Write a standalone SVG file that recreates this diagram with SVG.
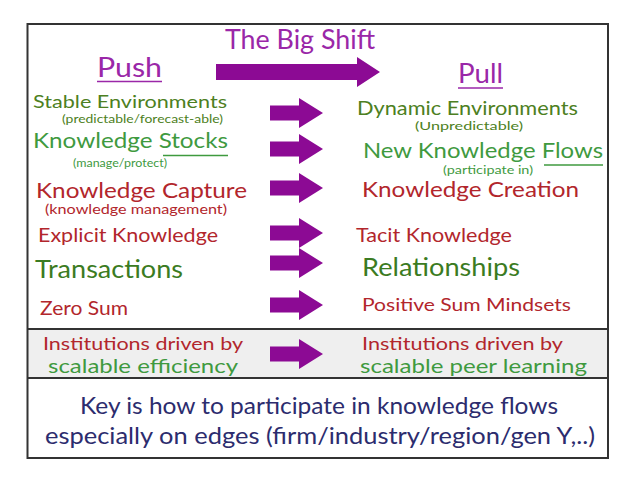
<svg xmlns="http://www.w3.org/2000/svg" width="638" height="479" viewBox="0 0 638 479">
<style>
text{font-family:"Lato","Open Sans","Liberation Sans",sans-serif;}
.pur{fill:#9a27a8;}
.ol{fill:#4d7f22;}
.gr{fill:#3f9a3f;}
.dg{fill:#3b7b22;}
.rd{fill:#b2262c;}
.nv{fill:#2c2c6e;}
.arr{fill:#8c0a94;}
.ul{stroke-width:1.5;}
</style>
<defs>
<path id="sa" d="M0,-7.5 H29 V-15 L53,0 L29,15 V7.5 H0 Z"/>
</defs>
<rect x="0" y="0" width="638" height="479" fill="#ffffff"/>
<rect x="27.5" y="329" width="580.5" height="49" fill="#efefef"/>
<rect x="27.5" y="24" width="580.5" height="434" fill="none" stroke="#333" stroke-width="2"/>
<line x1="27.5" y1="329" x2="608" y2="329" stroke="#333" stroke-width="2"/>
<line x1="27.5" y1="378" x2="608" y2="378" stroke="#333" stroke-width="2"/>

<g id="title">
<text x="225" y="49" font-size="27" class="pur" textLength="150" lengthAdjust="spacingAndGlyphs">The Big Shift</text>
</g>
<g id="push">
<text x="97" y="77" font-size="26" class="pur" textLength="65" lengthAdjust="spacingAndGlyphs">Push</text>
<line x1="97" y1="81.5" x2="162" y2="81.5" stroke="#9a27a8" class="ul"/>
</g>
<g id="pull">
<text x="458" y="83" font-size="26" class="pur" textLength="45" lengthAdjust="spacingAndGlyphs">Pull</text>
<line x1="458" y1="88" x2="503" y2="88" stroke="#9a27a8" class="ul"/>
</g>

<g id="stable">
<text x="33" y="108" font-size="18" class="ol" textLength="194" lengthAdjust="spacingAndGlyphs">Stable Environments</text>
<text x="62" y="123" font-size="12" class="ol" textLength="161" lengthAdjust="spacingAndGlyphs">(predictable/forecast-able)</text>
</g>
<g id="stocks">
<text x="33" y="148" font-size="21" class="gr" textLength="195" lengthAdjust="spacingAndGlyphs">Knowledge Stocks</text>
<line x1="163" y1="155.5" x2="228" y2="155.5" stroke="#3f9a3f" class="ul"/>
<text x="73" y="167" font-size="12" class="gr" textLength="94" lengthAdjust="spacingAndGlyphs">(manage/protect)</text>
</g>
<g id="capture">
<text x="36" y="198" font-size="21" class="rd" textLength="211" lengthAdjust="spacingAndGlyphs">Knowledge Capture</text>
<text x="45" y="214" font-size="13" class="rd" textLength="182" lengthAdjust="spacingAndGlyphs">(knowledge management)</text>
</g>
<g id="explicit">
<text x="38" y="242" font-size="19" class="rd" textLength="180" lengthAdjust="spacingAndGlyphs">Explicit Knowledge</text>
</g>
<g id="transactions">
<text x="35" y="278" font-size="25" class="dg" textLength="148" lengthAdjust="spacingAndGlyphs">Transactions</text>
</g>
<g id="zerosum">
<text x="40" y="315" font-size="19" class="rd" textLength="88" lengthAdjust="spacingAndGlyphs">Zero Sum</text>
</g>
<g id="inst-left">
<text x="43" y="350" font-size="18" class="rd" textLength="200" lengthAdjust="spacingAndGlyphs">Institutions driven by</text>
<text x="48" y="373" font-size="20" class="gr" textLength="190" lengthAdjust="spacingAndGlyphs">scalable efficiency</text>
</g>

<g id="dynamic">
<text x="357" y="115" font-size="19" class="ol" textLength="221" lengthAdjust="spacingAndGlyphs">Dynamic Environments</text>
<text x="415" y="130" font-size="12" class="ol" textLength="108" lengthAdjust="spacingAndGlyphs">(Unpredictable)</text>
</g>
<g id="flows">
<text x="363" y="158" font-size="21" class="gr" textLength="240" lengthAdjust="spacingAndGlyphs">New Knowledge Flows</text>
<line x1="544" y1="165" x2="603" y2="165" stroke="#3f9a3f" class="ul"/>
<text x="443" y="174" font-size="11" class="gr" textLength="90" lengthAdjust="spacingAndGlyphs">(participate in)</text>
</g>
<g id="creation">
<text x="362" y="197" font-size="21" class="rd" textLength="217" lengthAdjust="spacingAndGlyphs">Knowledge Creation</text>
</g>
<g id="tacit">
<text x="356" y="242" font-size="19" class="rd" textLength="156" lengthAdjust="spacingAndGlyphs">Tacit Knowledge</text>
</g>
<g id="relationships">
<text x="362" y="276" font-size="25" class="dg" textLength="158" lengthAdjust="spacingAndGlyphs">Relationships</text>
</g>
<g id="positive">
<text x="362" y="311" font-size="18" class="rd" textLength="209" lengthAdjust="spacingAndGlyphs">Positive Sum Mindsets</text>
</g>
<g id="inst-right">
<text x="362" y="350" font-size="18" class="rd" textLength="201" lengthAdjust="spacingAndGlyphs">Institutions driven by</text>
<text x="360" y="373" font-size="20" class="gr" textLength="227" lengthAdjust="spacingAndGlyphs">scalable peer learning</text>
</g>

<g id="key">
<text x="80" y="414" font-size="23" class="nv" textLength="478" lengthAdjust="spacingAndGlyphs">Key is how to participate in knowledge flows</text>
<text x="45" y="444" font-size="23" class="nv" textLength="550" lengthAdjust="spacingAndGlyphs">especially on edges (firm/industry/region/gen Y,..)</text>
</g>

<g id="connectors" class="arr">
<path d="M216,64 H357 V57 L380,72 L357,87 V80 H216 Z"/>
<use href="#sa" transform="translate(270,113)"/>
<use href="#sa" transform="translate(270,149)"/>
<use href="#sa" transform="translate(270,188)"/>
<use href="#sa" transform="translate(270,233)"/>
<use href="#sa" transform="translate(270,263)"/>
<use href="#sa" transform="translate(270,305)"/>
<use href="#sa" transform="translate(270,354)"/>
</g>
</svg>
